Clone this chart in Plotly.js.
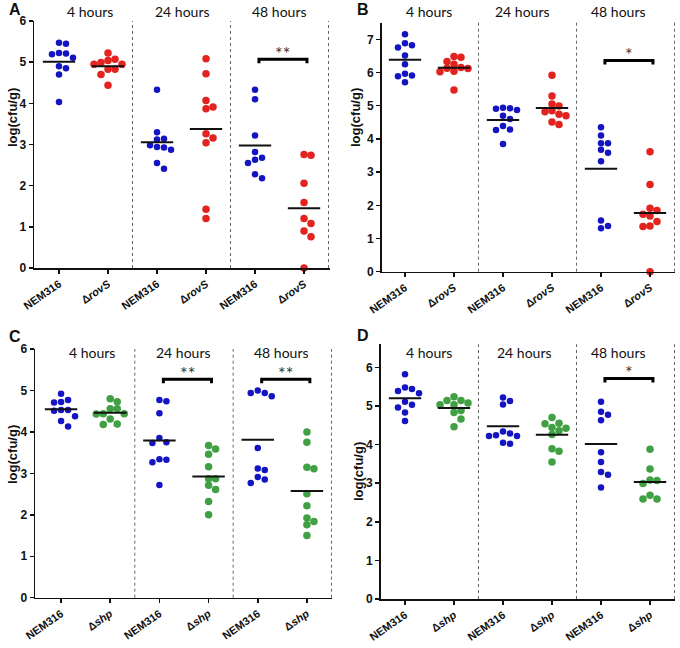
<!DOCTYPE html>
<html><head><meta charset="utf-8">
<script src="https://cdn.plot.ly/plotly-3.0.1.min.js"></script>
<style>body{margin:0;background:#fff;} #chart{width:680px;height:648px;}</style>
</head><body><div id="chart"></div>
<script>
// ---- data (log cfu/g) ----
const hourLabels = ['4 hours', '24 hours', '48 hours'];
const rovsTicks = ['NEM316', 'Δ<i>rovS</i>', 'NEM316', 'Δ<i>rovS</i>', 'NEM316', 'Δ<i>rovS</i>'];
const shpTicks = ['NEM316', 'Δ<i>shp</i>', 'NEM316', 'Δ<i>shp</i>', 'NEM316', 'Δ<i>shp</i>'];

const A_wt_4h  = [5.45, 5.47, 5.22, 5.19, 5.21, 5.11, 4.85, 4.90, 4.70, 4.03];
const A_mut_4h = [5.22, 5.07, 5.04, 4.99, 4.95, 4.95, 4.83, 4.83, 4.70, 4.44];
const A_wt_24h = [4.33, 3.30, 3.14, 3.12, 2.98, 2.93, 2.94, 2.87, 2.55, 2.41];
const A_mut_24h = [5.08, 4.72, 4.07, 3.87, 3.91, 3.26, 3.16, 3.04, 1.43, 1.20];
const A_wt_48h = [4.33, 4.10, 3.22, 2.82, 2.63, 2.68, 2.55, 2.28, 2.18];
const A_mut_48h = [2.76, 2.74, 2.06, 1.59, 1.20, 1.08, 0.90, 0.76, 0];

const B_wt_4h  = [7.15, 6.88, 6.75, 6.82, 6.51, 6.25, 5.96, 5.91, 5.89, 5.71];
const B_mut_4h = [6.46, 6.48, 6.25, 6.33, 6.13, 6.12, 6.15, 6.02, 6.04, 5.47];
const B_wt_24h = [4.94, 4.91, 4.87, 4.92, 4.70, 4.60, 4.28, 4.27, 4.39, 3.85];
const B_mut_24h = [5.92, 5.29, 4.85, 4.74, 4.99, 5.05, 4.82, 4.70, 4.51, 4.43];
const B_wt_48h = [4.35, 4.10, 3.87, 3.87, 3.67, 3.58, 3.33, 1.54, 1.31, 1.38];
const B_mut_48h = [3.61, 2.63, 1.84, 1.91, 1.73, 1.68, 1.51, 1.38, 1.36, 0];

const C_wt_4h  = [4.92, 4.77, 4.72, 4.71, 4.51, 4.53, 4.53, 4.38, 4.26, 4.13];
const C_mut_4h = [4.80, 4.73, 4.56, 4.56, 4.44, 4.43, 4.44, 4.31, 4.18, 4.19];
const C_wt_24h = [4.74, 4.77, 4.45, 3.85, 3.73, 3.75, 3.33, 3.27, 3.34, 2.72];
const C_mut_24h = [3.59, 3.67, 3.46, 3.16, 2.87, 2.87, 2.71, 2.61, 2.32, 2.00];
const C_wt_48h = [5.00, 4.94, 4.86, 4.94, 3.61, 3.12, 3.08, 2.91, 2.85, 2.77];
const C_mut_48h = [4.00, 3.75, 3.15, 3.11, 2.51, 2.22, 1.84, 1.92, 1.76, 1.50];

const D_wt_4h  = [5.82, 5.48, 5.39, 5.33, 5.44, 4.96, 5.03, 5.11, 4.83, 4.61];
const D_mut_4h = [5.24, 5.14, 5.14, 5.08, 5.03, 5.03, 4.88, 4.83, 4.66, 4.46];
const D_wt_24h = [5.22, 5.04, 5.13, 4.29, 4.22, 4.22, 4.24, 4.34, 4.02, 4.05];
const D_mut_24h = [4.70, 4.55, 4.54, 4.44, 4.42, 4.36, 4.26, 3.89, 3.83, 3.55];
const D_wt_48h = [5.11, 4.85, 4.77, 4.63, 3.80, 3.55, 3.29, 3.22, 2.89];
const D_mut_48h = [3.88, 3.37, 3.07, 3.08, 2.99, 2.69, 2.59, 2.59];

// significance brackets: [from group, to group, y, label]
const A_sig = [[4, 5, 5.07, '**']];
const B_sig = [[4, 5, 6.36, '*']];
const C_sig = [[2, 3, 5.27, '**'], [4, 5, 5.27, '**']];
const D_sig = [[4, 5, 5.71, '*']];

// ---- styling / layout ----
const BLUE = '#1414c2', RED = '#e2231f', GREEN = '#41a043';
const W = 680, H = 648;
const panels = [
  {letter: 'A', ax: '', groups: [A_wt_4h, A_mut_4h, A_wt_24h, A_mut_24h, A_wt_48h, A_mut_48h], mut: RED, ticks: rovsTicks, sig: A_sig,
   xd: [34 / W, 330 / W], yd: [1 - 268 / H, 1 - 21 / H], xr: [-0.51, 5.53], yr: [0, 6],
   hourX: [0.63, 2.53, 4.5], hourY: 12, letterXY: [15, 10], titleXY: [12, 118]},
  {letter: 'B', ax: '2', groups: [B_wt_4h, B_mut_4h, B_wt_24h, B_mut_24h, B_wt_48h, B_mut_48h], mut: RED, ticks: rovsTicks, sig: B_sig,
   xd: [381.7 / W, 675 / W], yd: [1 - 271.7 / H, 1 - 22.7 / H], xr: [-0.475, 5.51], yr: [0, 7.5],
   hourX: [0.5, 2.4, 4.35], hourY: 12, letterXY: [363, 10], titleXY: [355, 118]},
  {letter: 'C', ax: '3', groups: [C_wt_4h, C_mut_4h, C_wt_24h, C_mut_24h, C_wt_48h, C_mut_48h], mut: GREEN, ticks: shpTicks, sig: C_sig,
   xd: [35 / W, 332 / W], yd: [1 - 597.7 / H, 1 - 349 / H], xr: [-0.53, 5.51], yr: [0, 6],
   hourX: [0.63, 2.5, 4.48], hourY: 352, letterXY: [15, 336], titleXY: [12, 455]},
  {letter: 'D', ax: '4', groups: [D_wt_4h, D_mut_4h, D_wt_24h, D_mut_24h, D_wt_48h, D_mut_48h], mut: GREEN, ticks: shpTicks, sig: D_sig,
   xd: [380.7 / W, 675 / W], yd: [1 - 599 / H, 1 - 344.2 / H], xr: [-0.496, 5.51], yr: [0, 6.6],
   hourX: [0.49, 2.43, 4.35], hourY: 352, letterXY: [363, 335], titleXY: [358, 472]}
];

function mean(a) { return a.reduce((s, v) => s + v, 0) / a.length; }

// beeswarm offsets computed in pixel space
function swarm(vals, pxPerY, step, dmin) {
  const idx = vals.map((v, i) => i).sort((a, b) => vals[b] - vals[a]);
  const placed = [], off = new Array(vals.length).fill(0);
  const order = [0, 1, -1, 2, -2, 3, -3, 4, -4];
  for (const i of idx) {
    const yp = vals[i] * pxPerY;
    for (const k of order) {
      const xp = k * step;
      if (placed.every(p => Math.hypot(p.x - xp, p.y - yp) >= dmin)) {
        placed.push({x: xp, y: yp}); off[i] = xp; break;
      }
    }
  }
  return off;
}

const traces = [], shapes = [], annotations = [];
const layout = {
  width: W, height: H, margin: {l: 0, r: 0, t: 0, b: 0},
  paper_bgcolor: '#fff', plot_bgcolor: '#fff', showlegend: false,
  font: {family: 'Liberation Sans, Arial, sans-serif', color: '#111'}
};
const HOURFONT = {family: 'Lato, Open Sans, sans-serif', size: 14, color: '#111'};

panels.forEach(p => {
  const xa = 'x' + p.ax, ya = 'y' + p.ax;
  const pxW = (p.xd[1] - p.xd[0]) * W, pxH = (p.yd[1] - p.yd[0]) * H;
  const pxPerX = pxW / (p.xr[1] - p.xr[0]);
  const pxPerY = pxH / (p.yr[1] - p.yr[0]);
  p.groups.forEach((vals, gi) => {
    const isWT = gi % 2 === 0;
    const offs = swarm(vals, pxPerY, 7, 6.6);
    traces.push({
      type: 'scatter', mode: 'markers', xaxis: xa, yaxis: ya,
      x: vals.map((v, i) => gi + offs[i] / pxPerX), y: vals,
      marker: {color: isWT ? BLUE : p.mut, size: isWT ? 6.5 : 7.5},
      hoverinfo: 'y', cliponaxis: false
    });
    const m = mean(vals);
    shapes.push({type: 'line', xref: xa, yref: ya, x0: gi - 0.33, x1: gi + 0.33, y0: m, y1: m,
      line: {color: '#111', width: 2}});
  });
  [1.5, 3.5, 5.5].forEach(d => shapes.push({type: 'line', xref: xa, yref: ya + ' domain',
    x0: d, x1: d, y0: 0, y1: 1, line: {color: '#666', width: 1, dash: 'dot'}}));
  p.sig.forEach(([g0, g1, yv, lab]) => {
    const leg = 4 / pxPerY;
    const x0 = g0 + 0.08, x1 = g1 + 0.06;
    shapes.push({type: 'path', xref: xa, yref: ya,
      path: `M ${x0},${yv - leg} L ${x0},${yv} L ${x1},${yv} L ${x1},${yv - leg}`,
      line: {color: '#000', width: 3}});
    annotations.push({xref: xa, yref: ya, x: (x0 + x1) / 2, y: yv, text: lab, showarrow: false,
      yanchor: 'middle', yshift: 6.5, font: {family: 'Lato, sans-serif', size: 18, color: '#333'}});
  });
  hourLabels.forEach((h, i) => annotations.push({xref: xa, yref: 'paper', x: p.hourX[i], y: 1 - p.hourY / H,
    text: h, showarrow: false, xanchor: 'center', yanchor: 'middle', font: HOURFONT}));
  annotations.push({xref: 'paper', yref: 'paper', x: p.letterXY[0] / W, y: 1 - p.letterXY[1] / H,
    text: '<b>' + p.letter + '</b>', showarrow: false, xanchor: 'center', yanchor: 'middle',
    font: {family: 'Liberation Sans, Arial, sans-serif', size: 16, color: '#111'}});
  annotations.push({xref: 'paper', yref: 'paper', x: p.titleXY[0] / W, y: 1 - p.titleXY[1] / H,
    text: '<b>log(cfu/g)</b>', textangle: -90, showarrow: false, xanchor: 'center', yanchor: 'middle',
    font: {family: 'Liberation Sans, Arial, sans-serif', size: 13, color: '#111'}});

  layout['xaxis' + p.ax] = {
    domain: p.xd, range: p.xr, anchor: ya, tickmode: 'array', tickvals: [0, 1, 2, 3, 4, 5], ticktext: p.ticks,
    tickangle: -35, ticks: 'outside', ticklen: 4, tickwidth: 1.5, tickcolor: '#111',
    showline: true, linecolor: '#111', linewidth: 1.5, showgrid: false, zeroline: false, fixedrange: true,
    tickfont: {family: 'Liberation Sans, Arial, sans-serif', size: 11, weight: 'bold', color: '#111'}
  };
  layout['yaxis' + p.ax] = {
    domain: p.yd, range: p.yr, anchor: xa, tickmode: 'linear', tick0: 0, dtick: 1,
    ticks: 'outside', ticklen: 4, tickwidth: 1.5, tickcolor: '#111',
    showline: true, linecolor: '#111', linewidth: 1.5, showgrid: false, zeroline: false, fixedrange: true,
    tickfont: {family: 'Liberation Sans, Arial, sans-serif', size: 12, weight: 'bold', color: '#111'}
  };
});
layout.shapes = shapes;
layout.annotations = annotations;
Plotly.newPlot('chart', traces, layout, {staticPlot: true, displayModeBar: false});
</script>
</body></html>
